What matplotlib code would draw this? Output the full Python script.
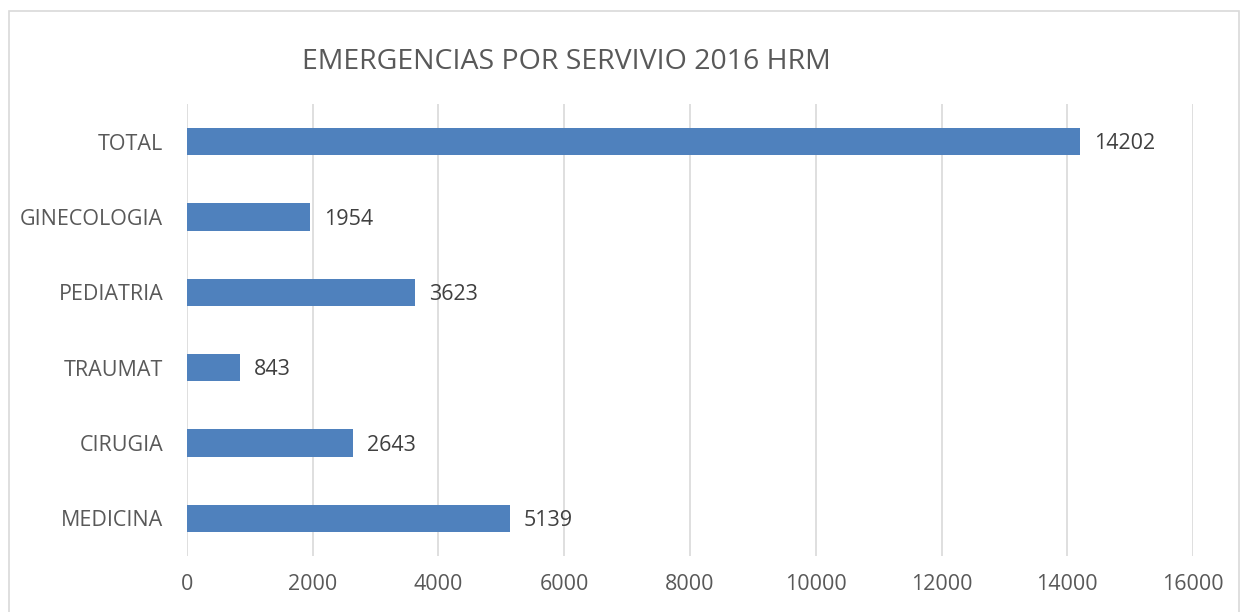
import matplotlib.pyplot as plt
from matplotlib.patches import Rectangle

categories = ["MEDICINA", "CIRUGIA", "TRAUMAT", "PEDIATRIA", "GINECOLOGIA", "TOTAL"]
values = [5139, 2643, 843, 3623, 1954, 14202]
x_ticks = [0, 2000, 4000, 6000, 8000, 10000, 12000, 14000, 16000]

text_color = "#595959"
plt.rcParams["font.family"] = ["Open Sans", "DejaVu Sans"]

fig = plt.figure(figsize=(12.43, 6.12), dpi=100)
ax = fig.add_axes([0.1504, 0.0915, 0.8094, 0.7385])

# light frame around the whole chart
fig.patches.append(Rectangle((9 / 1243, -0.01), 1230 / 1243, 1 - 11 / 612 + 0.01,
                             transform=fig.transFigure, fill=False,
                             edgecolor="#D9D9D9", linewidth=1.2))

bars = ax.barh(categories, values, height=0.36, color="#4F81BD", zorder=3)
for bar, v in zip(bars, values):
    ax.text(bar.get_width() + 220, bar.get_y() + bar.get_height() / 2 - 0.03,
            str(v), va="center", ha="left", fontsize=15.5, color="#404040")

ax.set_xlim(0, 16000)
ax.set_ylim(-0.5, len(categories) - 0.5)
ax.set_xticks(x_ticks)
ax.set_xticklabels([str(t) for t in x_ticks])
ax.grid(axis="x", color="#D9D9D9", linewidth=1.2, zorder=0)
for s in ax.spines.values():
    s.set_visible(False)
ax.tick_params(axis="both", length=0, labelsize=15.5, labelcolor=text_color)
ax.tick_params(axis="x", pad=13)
ax.tick_params(axis="y", pad=17)

fig.text(0.4555, 0.898, "EMERGENCIAS POR SERVIVIO 2016 HRM", ha="center",
         va="center", fontsize=20.5, color=text_color)

fig.savefig("out.png", dpi=100)
